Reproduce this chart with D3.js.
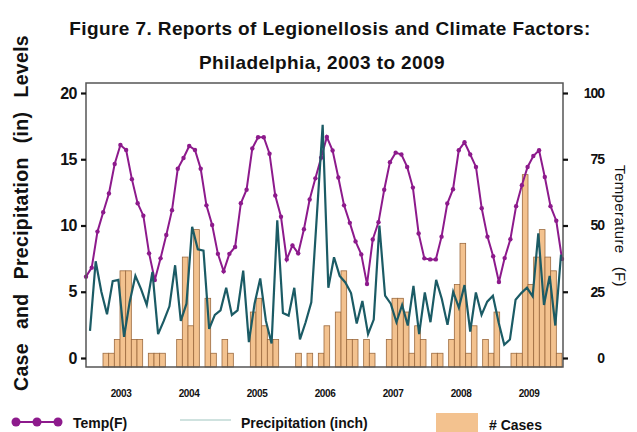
<!DOCTYPE html>
<html>
<head>
<meta charset="utf-8">
<script src="https://cdn.jsdelivr.net/npm/d3@7/dist/d3.min.js"></script>
<style>
  html, body { margin: 0; padding: 0; background: #fff; }
  svg { display: block; font-family: "Liberation Sans", Arial, Helvetica, sans-serif; }
</style>
</head>
<body>
<svg id="chart" width="637" height="432"></svg>
<script>
// ---- data -------------------------------------------------------------
const years = ["2003", "2004", "2005", "2006", "2007", "2008", "2009"];
const monthsOfYear = ["01", "02", "03", "04", "05", "06", "07", "08", "09", "10", "11", "12"];

// Monthly mean temperature (F)
const tempF = [
  30.7, 34.1, 47.7, 55.0, 62.1, 73.2, 80.4, 78.5, 67.5, 58.4, 53.7, 39.5,
  29.4, 37.6, 46.4, 55.8, 71.4, 75.5, 80.0, 78.5, 71.4, 57.6, 50.2, 39.3,
  32.7, 39.3, 41.9, 58.4, 63.5, 79.1, 83.3, 83.3, 77.1, 61.3, 53.3, 37.2,
  42.5, 39.5, 48.6, 59.8, 67.8, 75.6, 83.4, 78.3, 68.1, 57.6, 51.0, 44.0,
  39.1, 27.9, 44.7, 51.2, 63.5, 73.9, 77.5, 76.8, 72.1, 64.3, 47.0, 37.6,
  37.2, 37.2, 45.8, 58.3, 63.7, 78.4, 81.4, 76.8, 72.1, 56.5, 45.8, 38.4,
  28.7, 37.7, 44.8, 57.3, 65.2, 72.1, 76.2, 78.4, 68.3, 57.3, 51.8, 37.4
];

// Monthly precipitation (inch)
const precipIn = [
  2.05, 7.3, 5.0, 3.3, 5.8, 5.9, 1.6, 4.25, 6.2, 5.2, 4.0, 6.5,
  1.8, 2.8, 3.9, 7.0, 2.8, 4.1, 9.9, 8.2, 8.1, 2.2, 3.25, 3.6,
  5.3, 3.25, 3.6, 6.6, 1.2, 4.1, 6.0, 2.8, 1.1, 10.4, 3.4, 3.2,
  5.3, 1.4, 2.7, 4.2, 10.9, 17.6, 5.3, 7.6, 6.2, 5.7, 4.9, 2.6,
  4.3, 1.8, 2.9, 10.0, 4.7, 4.1, 2.7, 4.0, 2.45, 5.45, 1.8, 4.95,
  2.7, 5.9, 4.45, 2.5, 5.0, 3.8, 5.5, 2.0, 4.95, 3.25, 4.25, 4.7,
  2.7, 1.0, 1.4, 4.4, 4.9, 5.3, 4.65, 9.4, 4.0, 6.2, 2.45, 7.8
];

// Reported legionellosis cases per month
const cases = [
  0, 0, 0, 1, 1, 2, 7, 7, 2, 2, 0, 1,
  1, 1, 0, 0, 2, 8, 3, 10, 0, 5, 1, 0,
  2, 1, 0, 0, 0, 4, 5, 3, 2, 2, 0, 0,
  0, 1, 0, 1, 0, 1, 3, 0, 4, 7, 2, 2,
  0, 2, 1, 0, 0, 2, 5, 5, 4, 1, 3, 2,
  0, 1, 1, 0, 2, 6, 9, 1, 3, 0, 2, 1,
  4, 0, 0, 1, 1, 14, 6, 8, 10, 8, 7, 1
];

const leftTicks = [0, 5, 10, 15, 20];
const rightTicks = [0, 25, 50, 75, 100];

const titleLines = [
  "Figure 7. Reports of Legionellosis and Climate Factors:",
  "Philadelphia, 2003 to 2009"
];

// ---- layout -----------------------------------------------------------
const frame = { left: 86, right: 563, top: 83, bottom: 367 };
const zeroY = 358, topTickY = 93;

const monthKeys = years.flatMap(y => monthsOfYear.map(m => `${y}-${m}`));
const rows = monthKeys.map((k, i) => ({ key: k, temp: tempF[i], precip: precipIn[i], cases: cases[i] }));

const svg = d3.select("#chart");

// stretch the gaps between words so a text spans the wanted width
function fitWords(sel, width) {
  sel.each(function () {
    const natural = this.getComputedTextLength();
    const gaps = (this.textContent.match(/ /g) || []).length;
    if (gaps > 0 && width > natural) {
      d3.select(this).attr("word-spacing", (width - natural) / gaps);
    }
  });
}

// ---- scales -----------------------------------------------------------
const xTemp = d3.scalePoint().domain(monthKeys).range([frame.left, frame.right - 1]);
const xPrecip = d3.scalePoint().domain(monthKeys).range([frame.left + 4, frame.right - 2]);
const xBar = d3.scaleBand().domain(monthKeys).range([frame.left, frame.right - 1]).padding(0);
const xYear = d3.scaleBand().domain(years).range([frame.left, frame.right - 1]);

const yLeft = d3.scaleLinear().domain([0, 20]).range([zeroY, topTickY]);
const yRight = d3.scaleLinear().domain([0, 100]).range([zeroY, topTickY]);
const yCases = d3.scaleLinear().domain([0, 20.67]).range([frame.bottom, frame.top]);

// ---- title ------------------------------------------------------------
const titleWidths = [516, 246];
svg.append("g").selectAll("text")
  .data(titleLines)
  .join("text")
  .attr("x", (d, i) => i === 0 ? 330 : 322)
  .attr("y", (d, i) => i === 0 ? 35 : 69)
  .attr("text-anchor", "middle")
  .attr("font-size", 19)
  .attr("font-weight", "bold")
  .attr("letter-spacing", 0.4)
  .attr("fill", "#111")
  .text(d => d)
  .each(function (d, i) { fitWords(d3.select(this), titleWidths[i]); });

// ---- bars (cases) -----------------------------------------------------
svg.append("g")
  .selectAll("rect")
  .data(rows.filter(d => d.cases > 0))
  .join("rect")
  .attr("x", d => xBar(d.key))
  .attr("width", xBar.bandwidth())
  .attr("y", d => yCases(d.cases))
  .attr("height", d => yCases(0) - yCases(d.cases))
  .attr("fill", "#f3c28f")
  .attr("stroke", "#9c6a3e")
  .attr("stroke-width", 0.8);

// ---- temperature line -------------------------------------------------
const tempLine = d3.line().x(d => xTemp(d.key)).y(d => yRight(d.temp));
svg.append("path")
  .datum(rows)
  .attr("d", tempLine)
  .attr("fill", "none")
  .attr("stroke", "#8d1a8c")
  .attr("stroke-width", 2);
svg.append("g")
  .selectAll("circle")
  .data(rows)
  .join("circle")
  .attr("cx", d => xTemp(d.key))
  .attr("cy", d => yRight(d.temp))
  .attr("r", 2.2)
  .attr("fill", "#8d1a8c");

// ---- precipitation line -----------------------------------------------
const precipLine = d3.line().x(d => xPrecip(d.key)).y(d => yLeft(d.precip));
svg.append("path")
  .datum(rows)
  .attr("d", precipLine)
  .attr("fill", "none")
  .attr("stroke", "#1b5b65")
  .attr("stroke-width", 2.2);

// ---- frame ------------------------------------------------------------
svg.append("rect")
  .attr("x", frame.left)
  .attr("y", frame.top)
  .attr("width", frame.right - frame.left)
  .attr("height", frame.bottom - frame.top)
  .attr("fill", "none")
  .attr("stroke", "#555")
  .attr("stroke-width", 1.5);

// ---- axes -------------------------------------------------------------
const leftAxis = svg.append("g")
  .attr("transform", `translate(${frame.left},0)`)
  .call(d3.axisLeft(yLeft).tickValues(leftTicks).tickSize(5).tickPadding(4));
leftAxis.select(".domain").remove();
leftAxis.selectAll(".tick line").attr("stroke", "#111").attr("stroke-width", 2.2);
leftAxis.selectAll(".tick text")
  .attr("font-size", 16).attr("font-weight", "bold").attr("fill", "#111")
  .attr("font-family", "'Liberation Sans', Arial, sans-serif")
  .attr("letter-spacing", -0.5);

const rightAxis = svg.append("g")
  .attr("transform", `translate(${frame.right},0)`)
  .call(d3.axisRight(yRight).tickValues(rightTicks).tickSize(5).tickPadding(4));
rightAxis.select(".domain").remove();
rightAxis.selectAll(".tick line").attr("stroke", "#111").attr("stroke-width", 2.2);
rightAxis.selectAll(".tick text")
  .attr("x", 604 - frame.right)
  .attr("text-anchor", "end")
  .attr("font-size", 14).attr("font-weight", "bold").attr("fill", "#111")
  .attr("font-family", "'Liberation Sans', Arial, sans-serif")
  .attr("letter-spacing", -1);

// year labels under the frame
svg.append("g")
  .selectAll("text")
  .data(years)
  .join("text")
  .attr("x", d => xYear(d) + xYear.bandwidth() / 2 + 1)
  .attr("y", 397)
  .attr("text-anchor", "middle")
  .attr("font-size", 10)
  .attr("font-weight", "bold")
  .attr("letter-spacing", -0.4)
  .attr("fill", "#111")
  .text(d => d);

// axis titles
svg.append("text")
  .attr("transform", "translate(28,213) rotate(-90)")
  .attr("text-anchor", "middle")
  .attr("font-size", 19.5)
  .attr("font-weight", "bold")
  .attr("letter-spacing", 0.3)
  .attr("fill", "#111")
  .text("Case and Precipitation (in) Levels")
  .call(fitWords, 356);

svg.append("text")
  .attr("transform", "translate(615,226) rotate(90)")
  .attr("text-anchor", "middle")
  .attr("font-size", 15)
  .attr("letter-spacing", 0.4)
  .attr("fill", "#111")
  .text("Temperature (F)")
  .call(fitWords, 122);

// ---- legend -----------------------------------------------------------
const legend = svg.append("g");
const legendDots = [16, 37, 58];
legend.append("line")
  .attr("x1", legendDots[0]).attr("x2", legendDots[2])
  .attr("y1", 422).attr("y2", 422)
  .attr("stroke", "#8d1a8c").attr("stroke-width", 2);
legend.selectAll("circle")
  .data(legendDots)
  .join("circle")
  .attr("cx", d => d).attr("cy", 422).attr("r", 4.5)
  .attr("fill", "#8d1a8c");
legend.append("text")
  .attr("x", 73).attr("y", 428)
  .attr("font-size", 14).attr("font-weight", "bold").attr("fill", "#111")
  .text("Temp(F)");

legend.append("line")
  .attr("x1", 180).attr("x2", 231)
  .attr("y1", 420).attr("y2", 420)
  .attr("stroke", "#cfe2df").attr("stroke-width", 2);
legend.append("text")
  .attr("x", 241).attr("y", 428)
  .attr("font-size", 14).attr("font-weight", "bold").attr("fill", "#111")
  .text("Precipitation (inch)");

legend.append("rect")
  .attr("x", 436).attr("y", 413).attr("width", 42).attr("height", 22)
  .attr("fill", "#f3c28f");
legend.append("text")
  .attr("x", 489).attr("y", 430)
  .attr("font-size", 14).attr("font-weight", "bold").attr("fill", "#111")
  .text("# Cases");
</script>
</body>
</html>
